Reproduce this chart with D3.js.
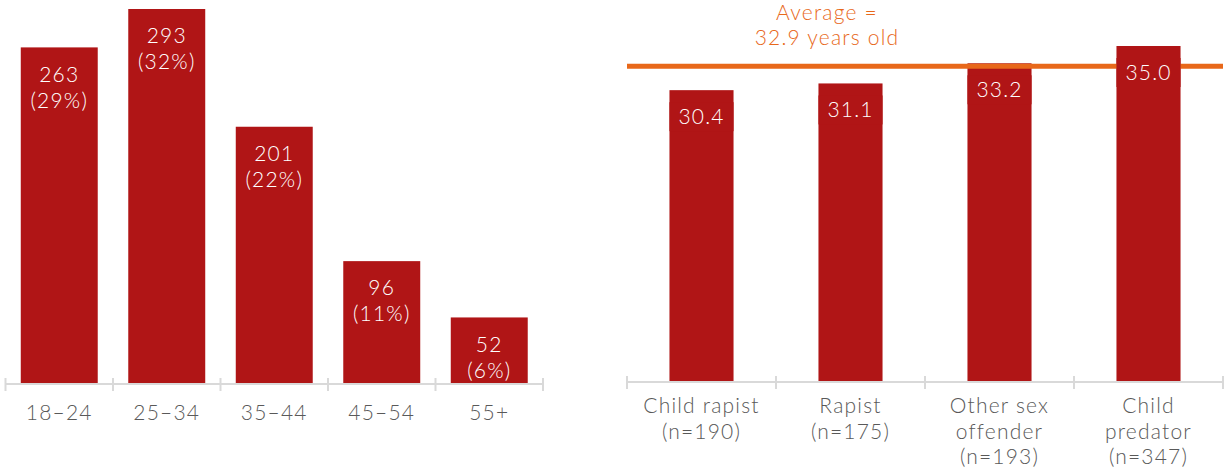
<!DOCTYPE html>
<html>
<head>
<meta charset="utf-8">
<script src="https://cdn.jsdelivr.net/npm/d3@7/dist/d3.min.js"></script>
<style>
  html, body { margin: 0; padding: 0; background: #fff; }
  svg { display: block; }
  text { font-family: Lato, "Noto Sans", sans-serif; font-weight: 300; letter-spacing: 1.2px; }
</style>
</head>
<body>
<svg id="chart" width="1225" height="470"></svg>
<script>
// ---- Data ----
const ageCategories = ["18–24", "25–34", "35–44", "45–54", "55+"];
const ageCounts = [263, 293, 201, 96, 52];
const agePercents = ["29%", "32%", "22%", "11%", "6%"];

const offenderCategories = [
  ["Child rapist", "(n=190)"],
  ["Rapist", "(n=175)"],
  ["Other sex", "offender", "(n=193)"],
  ["Child", "predator", "(n=347)"]
];
const offenderAges = [30.4, 31.1, 33.2, 35.0];
const averageAge = 32.9;
const averageLabel = ["Average =", "32.9 years old"];

// ---- Styles ----
const barColor = "#B01516";
const axisColor = "#D9D9D9";
const textColor = "#595959";
const avgColor = "#E8681A";

const svg = d3.select("#chart");

// ================= Left chart =================
{
  const n = ageCategories.length;
  const x = d3.scaleBand().domain(ageCategories).range([5.5, 543])
    .paddingInner(0.284).paddingOuter(0.142);
  const y = d3.scaleLinear().domain([0, 293]).range([384, 9]);
  const edge = d3.scaleLinear().domain([0, n]).range([5.5, 543]);
  const g = svg.append("g");

  g.selectAll("rect.bar").data(ageCounts).join("rect")
    .attr("x", (d, i) => x(ageCategories[i]))
    .attr("y", d => y(d))
    .attr("width", x.bandwidth())
    .attr("height", d => y(0) - y(d))
    .attr("fill", barColor);

  // axis
  g.append("line").attr("x1", edge(0)).attr("x2", edge(n))
    .attr("y1", y(0)).attr("y2", y(0))
    .attr("stroke", axisColor).attr("stroke-width", 2);
  g.selectAll("line.tick").data(d3.range(n + 1)).join("line")
    .attr("x1", d => edge(d)).attr("x2", d => edge(d))
    .attr("y1", y(0) - 6).attr("y2", y(0) + 7)
    .attr("stroke", axisColor).attr("stroke-width", 2);

  // value labels
  const lab = g.selectAll("text.val").data(ageCounts).join("text")
    .attr("text-anchor", "middle")
    .attr("fill", "#fff")
    .attr("font-size", 21);
  lab.append("tspan")
    .attr("x", (d, i) => x(ageCategories[i]) + x.bandwidth() / 2)
    .attr("y", d => y(d) + 27).attr("dy", "0.35em")
    .text(d => d);
  lab.append("tspan")
    .attr("x", (d, i) => x(ageCategories[i]) + x.bandwidth() / 2)
    .attr("y", d => y(d) + 53).attr("dy", "0.35em")
    .text((d, i) => "(" + agePercents[i] + ")");

  // category labels
  g.selectAll("text.cat").data(ageCategories).join("text")
    .attr("x", d => x(d) + x.bandwidth() / 2)
    .attr("y", 413).attr("dy", "0.35em")
    .attr("text-anchor", "middle")
    .attr("fill", textColor)
    .attr("font-size", 21)
    .text(d => d);
}

// ================= Right chart =================
{
  const n = offenderAges.length;
  const idx = d3.range(n);
  const x = d3.scaleBand().domain(idx).range([627, 1223])
    .paddingInner(0.57).paddingOuter(0.285);
  const y = d3.scaleLinear().domain([0, 35]).range([382, 46]);
  const edge = d3.scaleLinear().domain([0, n]).range([627, 1223]);
  const g = svg.append("g");

  g.selectAll("rect.bar").data(offenderAges).join("rect")
    .attr("x", (d, i) => x(i))
    .attr("y", d => y(d))
    .attr("width", x.bandwidth())
    .attr("height", d => y(0) - y(d))
    .attr("fill", barColor);

  // axis
  g.append("line").attr("x1", edge(0)).attr("x2", edge(n))
    .attr("y1", y(0)).attr("y2", y(0))
    .attr("stroke", axisColor).attr("stroke-width", 2);
  g.selectAll("line.tick").data(d3.range(n + 1)).join("line")
    .attr("x1", d => edge(d)).attr("x2", d => edge(d))
    .attr("y1", y(0) - 6).attr("y2", y(0) + 7)
    .attr("stroke", axisColor).attr("stroke-width", 2);

  // average line
  g.append("line").attr("x1", edge(0)).attr("x2", edge(n))
    .attr("y1", y(averageAge)).attr("y2", y(averageAge))
    .attr("stroke", avgColor).attr("stroke-width", 5);

  // value labels with bar-coloured backing
  const lg = g.selectAll("g.val").data(offenderAges).join("g");
  lg.append("rect")
    .attr("x", (d, i) => x(i))
    .attr("y", d => y(d) + 12)
    .attr("width", x.bandwidth())
    .attr("height", 29)
    .attr("fill", barColor);
  lg.append("text")
    .attr("x", (d, i) => x(i) + x.bandwidth() / 2)
    .attr("y", d => y(d) + 26.5).attr("dy", "0.35em")
    .attr("text-anchor", "middle")
    .attr("fill", "#fff")
    .attr("font-size", 21)
    .text(d => d.toFixed(1));

  // average label
  const at = g.append("text")
    .attr("text-anchor", "middle")
    .attr("fill", avgColor)
    .attr("font-size", 21);
  at.selectAll("tspan").data(averageLabel).join("tspan")
    .attr("x", 827)
    .attr("y", (d, i) => 13 + i * 25).attr("dy", "0.35em")
    .text(d => d);

  // category labels
  const ct = g.selectAll("text.cat").data(offenderCategories).join("text")
    .attr("text-anchor", "middle")
    .attr("fill", textColor)
    .attr("font-size", 21);
  ct.each(function (lines, i) {
    d3.select(this).selectAll("tspan").data(lines).join("tspan")
      .attr("x", x(i) + x.bandwidth() / 2)
      .attr("y", (d, j) => 406 + j * 25.5).attr("dy", "0.35em")
      .text(d => d);
  });
}
</script>
</body>
</html>
